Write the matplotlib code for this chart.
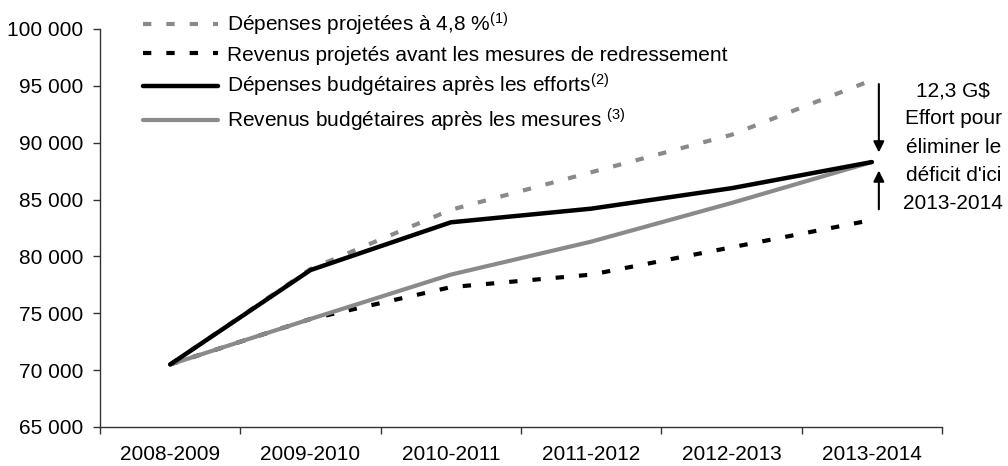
import matplotlib.pyplot as plt
from matplotlib.ticker import FuncFormatter

plt.rcParams['font.family'] = ['Liberation Sans', 'DejaVu Sans']
plt.rcParams['mathtext.fontset'] = 'custom'
plt.rcParams['mathtext.rm'] = 'Liberation Sans'
plt.rcParams['mathtext.it'] = 'Liberation Sans'

# Données (millions de dollars)
annees = ['2008-2009', '2009-2010', '2010-2011', '2011-2012', '2012-2013', '2013-2014']
depenses_projetees = [70500, 78900, 84100, 87400, 90700, 95500]
revenus_projetes = [70500, 74500, 77300, 78400, 80800, 83200]
depenses_apres = [70500, 78800, 83000, 84200, 86000, 88300]
revenus_apres = [70500, 74500, 78400, 81300, 84700, 88300]

gris = '#8a8a8a'
fs = 15

fig = plt.figure(figsize=(10.08, 4.66), dpi=100)
ax = fig.add_axes([100 / 1008, 1 - 427 / 466, 842 / 1008, 398 / 466])

x = [i + 0.5 for i in range(len(annees))]

l1, = ax.plot(x, depenses_projetees, color=gris, lw=3, dashes=(2, 3.6))
l2, = ax.plot(x, revenus_projetes, color='black', lw=3, dashes=(2, 3.6))
l4, = ax.plot(x, revenus_apres, color=gris, lw=3, solid_capstyle='round')
l3, = ax.plot(x, depenses_apres, color='black', lw=3.2, solid_capstyle='round')

ax.set_xlim(0, 6)
ax.set_ylim(65000, 100000)
ax.set_yticks(range(65000, 100001, 5000))
ax.yaxis.set_major_formatter(FuncFormatter(lambda v, p: f"{int(v):,}".replace(',', ' ')))
ax.set_xticks(range(0, 7))
ax.set_xticklabels([])
ax.set_xticks(x, minor=True)
ax.set_xticklabels(annees, minor=True)
ax.tick_params(axis='x', which='major', direction='out', length=5, width=1, color='#333333')
ax.tick_params(axis='x', which='minor', length=0, pad=13, labelsize=fs)
ax.tick_params(axis='y', direction='out', length=5, width=1, color='#333333', pad=7, labelsize=fs)

for s in ['top', 'right']:
    ax.spines[s].set_visible(False)
for s in ['left', 'bottom']:
    ax.spines[s].set_color('#333333')
    ax.spines[s].set_linewidth(1)

# Flèches de l'effort
ax.annotate('', xy=(5.55, 88900), xytext=(5.55, 95400),
            arrowprops=dict(arrowstyle='-|>', color='black', lw=1.5, mutation_scale=16),
            annotation_clip=False)
ax.annotate('', xy=(5.55, 87800), xytext=(5.55, 83900),
            arrowprops=dict(arrowstyle='-|>', color='black', lw=1.5, mutation_scale=16),
            annotation_clip=False)
ax.text(6.08, 89600, "12,3 G$\nEffort pour\néliminer le\ndéficit d'ici\n2013-2014",
        ha='center', va='center', fontsize=fs, linespacing=1.62, clip_on=False,
        parse_math=False)

labels = [
    'Dépenses projetées à 4,8 %$^{(1)}$',
    'Revenus projetés avant les mesures de redressement',
    'Dépenses budgétaires après les efforts$^{(2)}$',
    'Revenus budgétaires après les mesures $^{(3)}$',
]
fig.legend([l1, l2, l3, l4], labels, loc='upper left',
           bbox_to_anchor=(143 / 1008, 1 - 11 / 466), frameon=False,
           borderaxespad=0, borderpad=0, fontsize=fs, handlelength=3.6,
           handletextpad=0.45, labelspacing=0.36)

fig.savefig('out.png', dpi=100)
